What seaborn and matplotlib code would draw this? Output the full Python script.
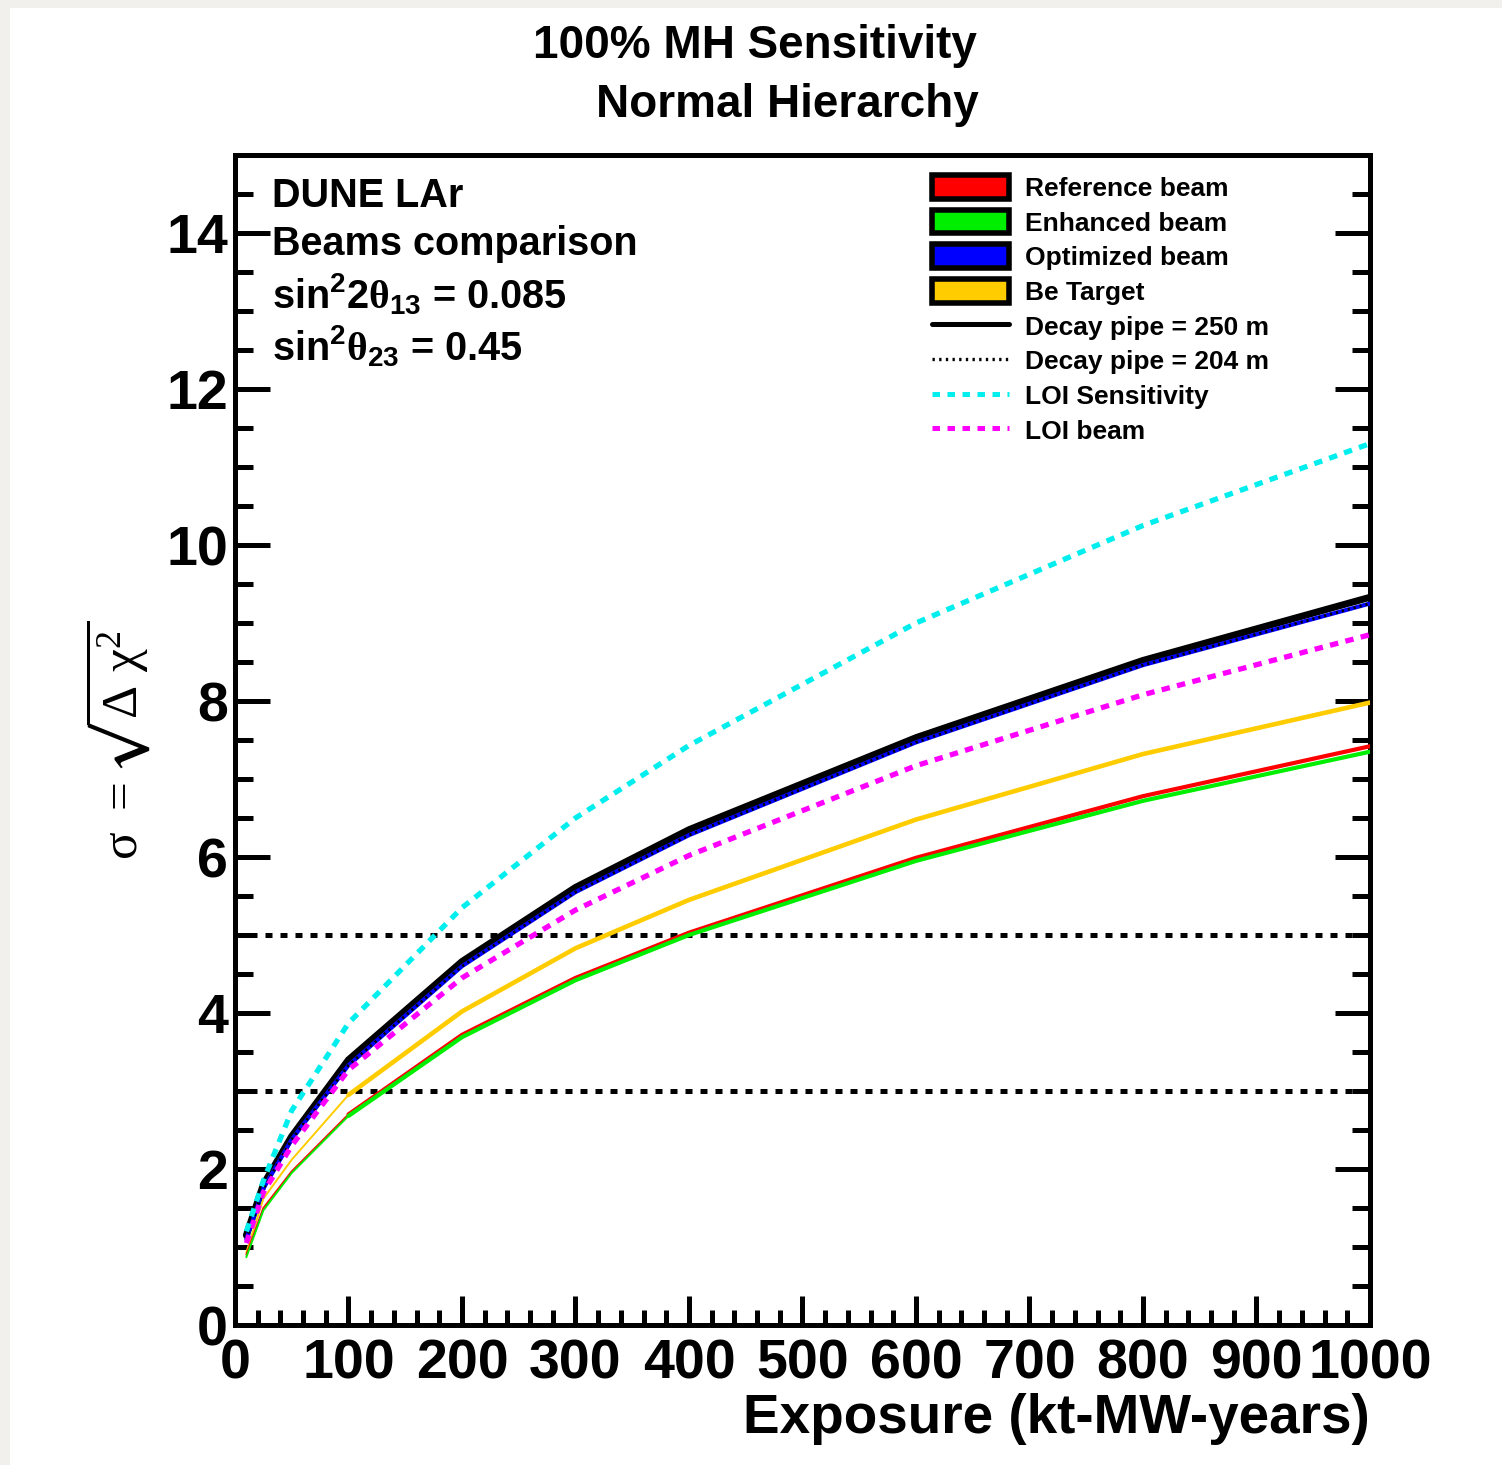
import matplotlib
matplotlib.use("Agg")
import matplotlib.pyplot as plt
import seaborn as sns
import numpy as np
import pandas as pd
from matplotlib.patches import Patch, Rectangle
from matplotlib.lines import Line2D
from matplotlib.ticker import MultipleLocator

# ---------------- data ----------------
exposure = [10, 25, 50, 100, 200, 300, 400, 600, 800, 1000]
pipe250 = [1.15, 1.80, 2.42, 3.40, 4.66, 5.61, 6.35, 7.53, 8.52, 9.33]
optimized = [1.10, 1.75, 2.38, 3.33, 4.60, 5.55, 6.28, 7.47, 8.46, 9.25]
reference = [0.90, 1.50, 1.97, 2.70, 3.72, 4.45, 5.03, 5.99, 6.78, 7.42]
enhanced = [0.87, 1.47, 1.95, 2.68, 3.69, 4.42, 5.00, 5.95, 6.72, 7.35]
be_target = [0.93, 1.62, 2.12, 2.95, 4.02, 4.83, 5.45, 6.48, 7.32, 7.98]
loi_sens = [1.20, 1.85, 2.75, 3.87, 5.35, 6.50, 7.43, 9.00, 10.25, 11.30]
loi_beam = [1.05, 1.70, 2.30, 3.27, 4.45, 5.32, 6.02, 7.17, 8.08, 8.85]
sigma_levels = [3, 5]
x_ticks = [0, 100, 200, 300, 400, 500, 600, 700, 800, 900, 1000]
y_ticks = [0, 2, 4, 6, 8, 10, 12, 14]

legend_labels = ["Reference beam", "Enhanced beam", "Optimized beam", "Be Target",
                 "Decay pipe = 250 m", "Decay pipe = 204 m", "LOI Sensitivity", "LOI beam"]

# ---------------- style ----------------
sns.set_style("ticks")
plt.rcParams['font.family'] = ['Liberation Sans', 'DejaVu Sans']
plt.rcParams['font.weight'] = 'bold'
plt.rcParams['text.color'] = 'black'
plt.rcParams['xtick.color'] = 'black'
plt.rcParams['ytick.color'] = 'black'
plt.rcParams['xtick.labelcolor'] = 'black'
plt.rcParams['ytick.labelcolor'] = 'black'
plt.rcParams['mathtext.fontset'] = 'custom'
plt.rcParams['mathtext.rm'] = 'Liberation Serif'
plt.rcParams['mathtext.bf'] = 'Liberation Sans:bold'
plt.rcParams['mathtext.it'] = 'Liberation Serif:italic'
plt.rcParams['mathtext.default'] = 'regular'

fig = plt.figure(figsize=(15.02, 14.65), dpi=100, facecolor='white')
# light page border (top and left)
fig.patches.append(Rectangle((0, 1 - 8 / 1465), 1, 8 / 1465, transform=fig.transFigure,
                             facecolor='#f2f0ec', edgecolor='none', zorder=0))
fig.patches.append(Rectangle((0, 0), 10 / 1502, 1, transform=fig.transFigure,
                             facecolor='#f2f0ec', edgecolor='none', zorder=0))

ax = fig.add_axes([235 / 1502, 1 - 1325 / 1465, (1370 - 235) / 1502, (1325 - 155) / 1465])
ax.set_facecolor('white')


def draw(y, color, lw, ls, z, start=0, end=None):
    d = pd.DataFrame({"x": exposure[start:end], "y": y[start:end]})
    sns.lineplot(data=d, x="x", y="y", color=color, lw=lw, linestyle=ls, ax=ax,
                 legend=False, zorder=z, sort=False)
    ax.lines[-1].set_solid_joinstyle('miter')

# Reference / Enhanced / Be target: thin at low exposure, thick afterwards
draw(be_target, '#ffcc00', 1.4, '-', 3, 0, 4)
draw(be_target, '#ffcc00', 3.3, '-', 3, 3)
draw(reference, '#ff0000', 1.4, '-', 3, 0, 4)
draw(reference, '#ff0000', 3.0, '-', 3, 3)
draw(enhanced, '#00ee00', 1.4, '-', 3.1, 0, 4)
draw(enhanced, '#00ee00', 3.0, '-', 3.1, 3)
# black decay pipe 250 m and optimized (blue) with 204 m dotted overlay
draw(pipe250, 'black', 5.0, '-', 4)
draw(optimized, '#0000ff', 3.0, '-', 4.5)
draw(optimized, 'black', 2.0, (0, (0.8, 1.4)), 4.6)
# LOI curves
draw(loi_beam, '#ff00ff', 3.8, (0, (1.6, 1.4)), 5)
draw(loi_sens, '#00eeee', 3.8, (0, (1.6, 1.4)), 5)

for lev in sigma_levels:
    ax.axhline(lev, color='black', lw=3.6, linestyle=(0, (1.4, 1.6)), zorder=2)

ax.set_xlim(0, 1000)
ax.set_ylim(0, 15)
ax.set_xticks(x_ticks)
ax.set_yticks(y_ticks)
ax.xaxis.set_minor_locator(MultipleLocator(20))
ax.yaxis.set_minor_locator(MultipleLocator(0.5))
ax.set_xticklabels([str(v) for v in x_ticks], fontsize=40, fontweight='bold', color='black')
ax.set_yticklabels([str(v) for v in y_ticks], fontsize=40, fontweight='bold', color='black')
ax.tick_params(axis='both', which='both', direction='in', width=3.6, color='black')
ax.tick_params(axis='y', which='major', length=25, left=True, right=True, pad=5)
ax.tick_params(axis='y', which='minor', length=13, left=True, right=True)
ax.tick_params(axis='x', which='major', length=21, bottom=True, top=False, pad=10)
ax.tick_params(axis='x', which='minor', length=11, bottom=True, top=False)
for s in ax.spines.values():
    s.set_linewidth(3.6)
    s.set_color('black')
ax.set_xlabel("")
ax.set_ylabel("")

# axis titles
fig.text(1370 / 1502, 1 - 1433 / 1465, "Exposure (kt-MW-years)", ha='right', va='baseline',
         fontsize=39.5, fontweight='bold', color='black')
fig.text(118 / 1502, 1 - 740 / 1465,
         r'$\sigma\ =\sqrt{\Delta\ \chi^{2}}$',
         rotation=90, ha='center', va='center', fontsize=37, fontweight='normal',
         family='Liberation Serif', math_fontfamily='stix', color='black')

# title
fig.text(977 / 1502, 1 - 58 / 1465, "100% MH Sensitivity", ha='right', va='baseline',
         fontsize=33, fontweight='bold', color='black')
fig.text(979 / 1502, 1 - 117 / 1465, "Normal Hierarchy", ha='right', va='baseline',
         fontsize=33, fontweight='bold', color='black')

# annotations
def atext(y_px, s):
    fig.text(272 / 1502, 1 - y_px / 1465, s, ha='left', va='baseline', fontsize=28.5,
             fontweight='bold', color='black')
atext(207, "DUNE LAr")
atext(255, "Beams comparison")
atext(308, r'sin$^{\mathbf{2}}$2$\mathrm{\theta}_{\mathbf{13}}$ = 0.085')
atext(360, r'sin$^{\mathbf{2}}\mathrm{\theta}_{\mathbf{23}}$ = 0.45')

# legend
handles = [
    Patch(facecolor='#ff0000', edgecolor='black', linewidth=4),
    Patch(facecolor='#00ee00', edgecolor='black', linewidth=4),
    Patch(facecolor='#0000ff', edgecolor='black', linewidth=4),
    Patch(facecolor='#ffcc00', edgecolor='black', linewidth=4),
    Line2D([], [], color='black', lw=3.6),
    Line2D([], [], color='black', lw=2.4, linestyle=(0, (0.7, 1.3))),
    Line2D([], [], color='#00eeee', lw=3.6, linestyle=(0, (1.5, 1.5))),
    Line2D([], [], color='#ff00ff', lw=3.6, linestyle=(0, (1.5, 1.5))),
]
leg = ax.legend(handles, legend_labels, loc='upper left',
                bbox_to_anchor=((932 - 235) / 1135, (1325 - 175) / 1170),
                frameon=False, handlelength=2.9, handleheight=1.0,
                handletextpad=0.62, labelspacing=0.335, borderpad=0, borderaxespad=0,
                prop={'weight': 'bold', 'size': 19})
for t in leg.get_texts():
    t.set_color('black')

fig.savefig("out.png", dpi=100, facecolor=fig.get_facecolor())
